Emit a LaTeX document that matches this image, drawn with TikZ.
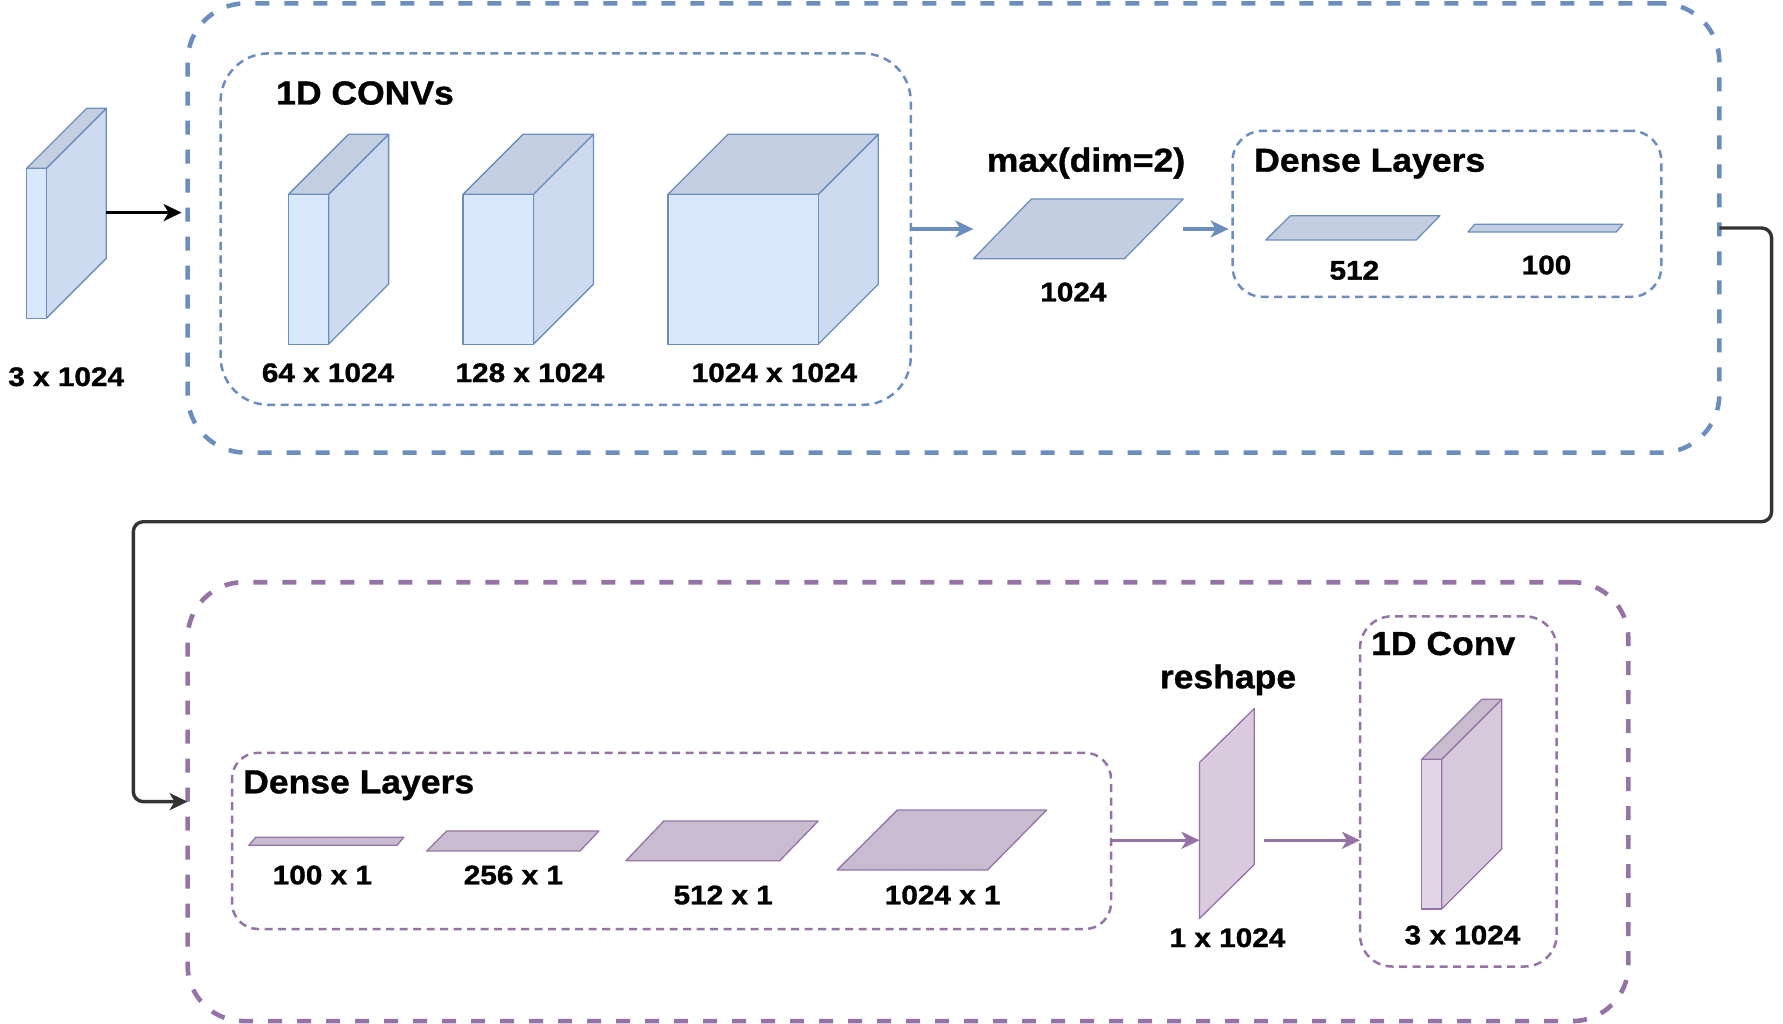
\documentclass[tikz,border=0pt]{standalone}
\usepackage{fontspec}
\usetikzlibrary{arrows.meta}
\newfontfamily\lblfont[FakeStretch=1.11,FakeBold=1.2]{Liberation Sans}
\newfontfamily\ttlfont[FakeStretch=1.07,FakeBold=1.0]{Liberation Sans}
\definecolor{bline}{HTML}{6C8EBF}
\definecolor{bfront}{HTML}{DAE8FC}
\definecolor{bside}{HTML}{CDDAEF}
\definecolor{btop}{HTML}{C4CFE1}
\definecolor{bpara}{HTML}{C3CEE0}
\definecolor{pline}{HTML}{9673A6}
\definecolor{pfront}{HTML}{E1D5E7}
\definecolor{pside}{HTML}{D7C9DC}
\definecolor{ptop}{HTML}{C9BCCF}
\definecolor{ppara}{HTML}{C9BCD0}
\definecolor{preshape}{HTML}{D9CADE}
\definecolor{elbowgray}{HTML}{333333}
% cuboid: x0,y0,x1,y1 (front face), dx,dy (depth), colour prefix
\newcommand\drawcuboid[7]{%
  \filldraw[fill=#7side,draw=#7line,line width=1.3pt,line join=round]
    (#3,#2) -- ({#3+#5},{#2+#6}) -- ({#3+#5},{#4+#6}) -- (#3,#4) -- cycle;
  \filldraw[fill=#7top,draw=#7line,line width=1.3pt,line join=round]
    (#1,#2) -- ({#1+#5},{#2+#6}) -- ({#3+#5},{#2+#6}) -- (#3,#2) -- cycle;
  \filldraw[fill=#7front,draw=#7line,line width=1.3pt,line join=round]
    (#1,#2) rectangle (#3,#4);
}
\tikzset{
  outerb/.style={draw=bline, rounded corners=58pt, line width=4.5pt,
    dash pattern=on 14pt off 15pt, inner sep=0pt, outer sep=0pt},
  outerp/.style={draw=pline, rounded corners=56pt, line width=4.6pt,
    dash pattern=on 14pt off 15pt, inner sep=0pt, outer sep=0pt},
  innerb/.style={draw=bline, line width=2.5pt,
    dash pattern=on 8pt off 5.5pt, inner sep=0pt, outer sep=0pt},
  innerp/.style={draw=pline, line width=2.5pt,
    dash pattern=on 8pt off 5.5pt, inner sep=0pt, outer sep=0pt},
  lbl/.style={font=\lblfont\bfseries\fontsize{26.8}{30}\selectfont,
    inner sep=0pt, anchor=base},
  ttl/.style={font=\ttlfont\bfseries\fontsize{33.2}{38}\selectfont,
    inner sep=0pt, anchor=base west},
  ttlc/.style={font=\ttlfont\bfseries\fontsize{33.2}{38}\selectfont,
    inner sep=0pt, anchor=base},
  tip/.style={-{Stealth[length=18pt,width=17pt,inset=5pt]}},
  blackarr/.style={tip, draw=black, line width=3.3pt},
  elbowarr/.style={tip, draw=elbowgray, line width=3.4pt, rounded corners=10pt},
  bluearr/.style={tip, draw=bline, line width=3.2pt},
  purparr/.style={tip, draw=pline, line width=3.6pt},
  bparastyle/.style={fill=bpara, draw=bline, line width=1.3pt, line join=round},
  pparastyle/.style={fill=ppara, draw=pline, line width=1.3pt, line join=round},
}
\begin{document}
\begin{tikzpicture}[x=1pt,y=-1pt]
\useasboundingbox (0,0) rectangle (1783,1024);

% ---------- containers ----------
\node[outerb, minimum width=1531.7pt, minimum height=449.2pt] (enc) at (953.45,228) {};
\node[innerb, rounded corners=48pt, minimum width=690.2pt, minimum height=351.4pt] (convbox) at (565.7,229.1) {};
\node[innerb, rounded corners=30pt, minimum width=428.7pt, minimum height=166pt] (dense1) at (1446.95,213.8) {};
\node[outerp, minimum width=1440.7pt, minimum height=438.9pt] (dec) at (907.95,801.65) {};
\node[innerp, rounded corners=26pt, minimum width=879pt, minimum height=176.2pt] (dense2) at (671.5,840.9) {};
\node[innerp, rounded corners=32pt, minimum width=196.7pt, minimum height=350.2pt] (conv2box) at (1458.35,791.4) {};

% ---------- input slab ----------
\drawcuboid{26.7}{168.3}{46.3}{318.3}{60}{-60}{b}
\coordinate (inout) at (106.3,212.6);
\node[lbl] (lin) at (66.2,386) {3 x 1024};

% ---------- 1D convs ----------
\node[ttl] (tconv) at (276,104.5) {1D CONVs};
\drawcuboid{288.6}{194.3}{328.6}{344.2}{60}{-60}{b}
\drawcuboid{463.1}{194.3}{533.4}{344.2}{60}{-60}{b}
\drawcuboid{668}{194.3}{818.3}{344.2}{60}{-60}{b}
\node[lbl] (l64) at (328,382) {64 x 1024};
\node[lbl] (l128) at (530,382) {128 x 1024};
\node[lbl] (l1024) at (774.4,382) {1024 x 1024};

% ---------- max pooling ----------
\node[ttlc] (tmax) at (1086,171.7) {max(dim=2)};
\filldraw[bparastyle] (973.4,258.8) -- (1124.3,258.8) -- (1183.2,199) -- (1031.4,199) -- cycle;
\coordinate (maxin) at (973.4,229);
\coordinate (maxout) at (1183.2,229);
\node[lbl] (lmax) at (1073.4,301.3) {1024};

% ---------- dense (encoder) ----------
\node[ttl] (tdense1) at (1254,171.7) {Dense Layers};
\filldraw[bparastyle] (1265.8,240) -- (1416.2,240) -- (1439.9,215.7) -- (1290.3,215.7) -- cycle;
\filldraw[bparastyle] (1468,232) -- (1616.2,232) -- (1622.9,224.3) -- (1474.7,224.3) -- cycle;
\node[lbl] (l512) at (1354.3,279.6) {512};
\node[lbl] (l100) at (1546.5,274.3) {100};

% ---------- dense (decoder) ----------
\node[ttl] (tdense2) at (243,793.3) {Dense Layers};
\filldraw[pparastyle] (248.8,845.3) -- (396.9,845.3) -- (403.8,837.3) -- (255.7,837.3) -- cycle;
\filldraw[pparastyle] (426.7,851) -- (580,851) -- (598.9,831) -- (446.8,831) -- cycle;
\filldraw[pparastyle] (625.9,860.7) -- (779.7,860.7) -- (818.2,821) -- (663.8,821) -- cycle;
\filldraw[pparastyle] (837.1,870) -- (987.5,870) -- (1046.7,810) -- (897.4,810) -- cycle;
\node[lbl] (l100b) at (322.4,884.3) {100 x 1};
\node[lbl] (l256) at (513.4,884.3) {256 x 1};
\node[lbl] (l512b) at (723.2,904.3) {512 x 1};
\node[lbl] (l1024b) at (942.7,904.3) {1024 x 1};

% ---------- reshape ----------
\node[ttlc] (treshape) at (1228,688.3) {reshape};
\filldraw[fill=preshape, draw=pline, line width=1.3pt, line join=round]
  (1199.5,762.5) -- (1254.3,708.5) -- (1254.3,864.5) -- (1199.5,918.5) -- cycle;
\coordinate (rsin) at (1199.5,840.3);
\coordinate (rsout) at (1264.3,840.3);
\node[lbl] (lrs) at (1227.5,947) {1 x 1024};

% ---------- output 1D conv ----------
\node[ttl] (tconv2) at (1371,655) {1D Conv};
\drawcuboid{1421.7}{759.3}{1441.7}{909}{60}{-60}{p}
\node[lbl] (lout) at (1462.5,944.3) {3 x 1024};

% ---------- connectors ----------
\draw[blackarr, shorten >=6pt] (inout) -- (inout -| enc.west);
\draw[bluearr] (convbox.east |- maxin) -- (maxin);
\draw[bluearr, shorten >=4pt] (maxout) -- (maxout -| dense1.west);
\coordinate (e1) at (1771.6,521.7);
\coordinate (e2) at (133.3,801.65);
\draw[elbowarr] (enc.east) -| (e1) -| (e2) -- (e2 -| dec.west);
\draw[purparr] (dense2.east |- rsin) -- (rsin);
\draw[purparr] (rsout) -- (rsout -| conv2box.west);
\end{tikzpicture}
\end{document}
